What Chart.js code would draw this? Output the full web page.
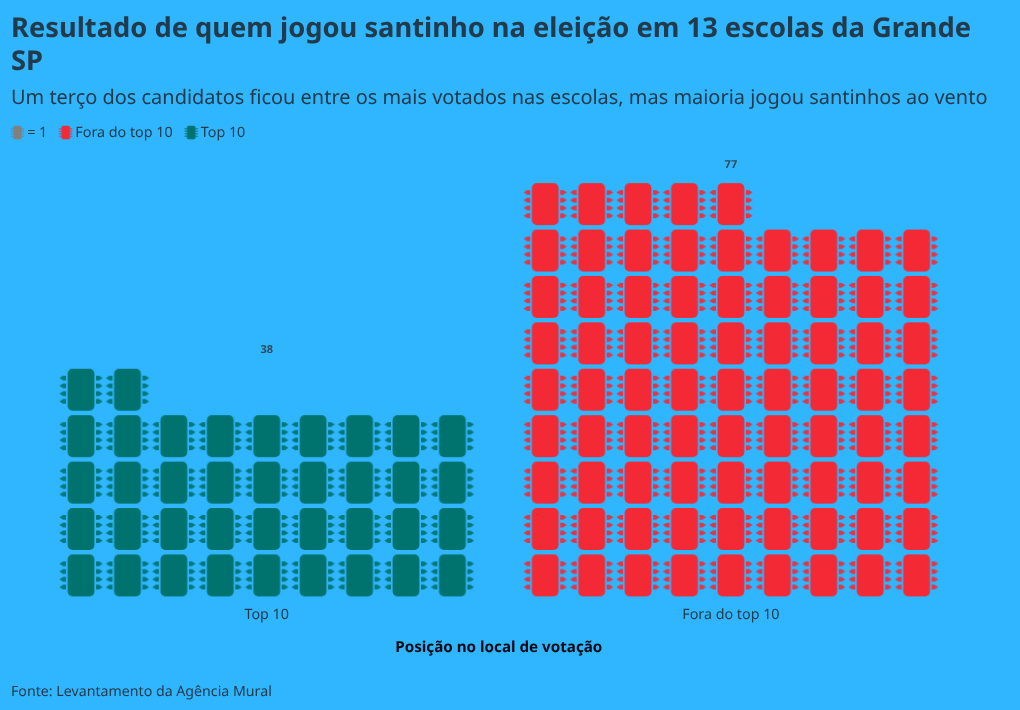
<!DOCTYPE html>
<html>
<head>
<meta charset="utf-8">
<style>
  html, body { margin: 0; padding: 0; background: #2fb6ff; }
  canvas { display: block; }
</style>
<script src="https://cdn.jsdelivr.net/npm/chart.js@4/dist/chart.umd.min.js"></script>
</head>
<body>
<canvas id="chart" width="1020" height="710"></canvas>
<script>
var categories = ["Top 10", "Fora do top 10"];
var values = [38, 77];
var keyLabel = "= 1";
var titleLines = ["Resultado de quem jogou santinho na eleição em 13 escolas da Grande", "SP"];
var subtitleText = "Um terço dos candidatos ficou entre os mais votados nas escolas, mas maioria jogou santinhos ao vento";
var axisTitle = "Posição no local de votação";
var sourceText = "Fonte: Levantamento da Agência Mural";

var perRow = 9;
var groupStart = [0, 10];
var green = "#00736e";
var red = "#f32a35";
var gray = "#808080";
var ink = "#223a4a";
var fontName = "'Noto Sans', sans-serif";

Chart.defaults.font.family = fontName;

// chip icon used as point style
function makeIcon(color, k) {
    var c = document.createElement("canvas");
    c.width = Math.ceil(46 * k);
    c.height = Math.ceil(46 * k);
    var g = c.getContext("2d");
    g.translate(c.width / 2, c.height / 2);
    g.scale(k, k);
    g.fillStyle = color;
    g.beginPath();
    g.roundRect(-13.4, -21, 26.8, 42, 5);
    g.fill();
    g.globalAlpha = 0.92;
    [-11.7, -3.9, 3.9, 11.7].forEach(function (y) {
        [-1, 1].forEach(function (s) {
            g.beginPath();
            g.moveTo(s * 15, y - 2.4);
            g.lineTo(s * 18, y - 2.4);
            g.lineTo(s * 21.6, y);
            g.lineTo(s * 18, y + 2.4);
            g.lineTo(s * 15, y + 2.4);
            g.closePath();
            g.fill();
        });
    });
    return c;
}

function cells(idx) {
    var pts = [];
    for (var i = 0; i < values[idx]; i++) {
        pts.push({ x: groupStart[idx] + i % perRow, y: Math.floor(i / perRow) });
    }
    return pts;
}

var valueLabels = {
    id: "valueLabels",
    afterDatasetsDraw: function (chart) {
        var ctx = chart.ctx;
        ctx.save();
        ctx.font = "bold 11px " + fontName;
        ctx.fillStyle = "#33495a";
        ctx.textAlign = "center";
        ctx.textBaseline = "middle";
        for (var i = 0; i < values.length; i++) {
            var top = Math.ceil(values[i] / perRow) - 1;
            var x = chart.scales.x.getPixelForValue(groupStart[i] + (perRow - 1) / 2);
            ctx.fillText(values[i], x, chart.scales.y.getPixelForValue(top + 0.85));
        }
        ctx.restore();
    }
};

var sourceNote = {
    id: "sourceNote",
    beforeDraw: function (chart) {
        chart.ctx.textRendering = "geometricPrecision";
    },
    afterLayout: function (chart) {
        chart.legend.left = -1;
        chart.legend.top -= 8;
        // title and subtitle may run past the plot's right side
        chart.boxes.forEach(function (box) {
            if (box.position === "top") {
                box.right = 1015;
            }
        });
    },
    afterDraw: function (chart) {
        var ctx = chart.ctx;
        ctx.save();
        ctx.font = "14.2px " + fontName;
        ctx.fillStyle = ink;
        ctx.textBaseline = "middle";
        ctx.fillText(sourceText, 11, 691.5);
        ctx.restore();
    }
};

var smallIcons = [makeIcon(gray, 0.32), makeIcon(red, 0.32), makeIcon(green, 0.32)];

new Chart(document.getElementById("chart"), {
    type: "scatter",
    data: {
        datasets: [
            { label: keyLabel, data: [], pointStyle: makeIcon(gray, 1), backgroundColor: gray },
            { label: categories[1], data: cells(1), pointStyle: makeIcon(red, 1), backgroundColor: red, pointRadius: 20 },
            { label: categories[0], data: cells(0), pointStyle: makeIcon(green, 1), backgroundColor: green, pointRadius: 20 }
        ]
    },
    options: {
        responsive: false,
        animation: false,
        clip: false,
        layout: { padding: { left: 11, right: 57, top: 13, bottom: 53 } },
        scales: {
            x: {
                type: "linear",
                min: -1,
                max: 19,
                grid: { display: false },
                border: { display: false },
                afterBuildTicks: function (scale) {
                    scale.ticks = [{ value: 4 }, { value: 14 }];
                },
                ticks: {
                    autoSkip: false,
                    maxRotation: 0,
                    padding: 0,
                    color: ink,
                    font: { size: 14.3 },
                    callback: function (v) {
                        return v === 4 ? categories[0] : categories[1];
                    }
                },
                title: {
                    display: true,
                    text: axisTitle,
                    color: "#0a0a14",
                    font: { size: 15.2, weight: "bold" },
                    padding: { top: 15, bottom: 0 }
                }
            },
            y: {
                type: "linear",
                min: -0.5,
                max: 9,
                grid: { display: false },
                border: { display: false },
                ticks: { display: false },
                afterFit: function (scale) {
                    scale.width = 23.6;
                }
            }
        },
        plugins: {
            title: {
                display: true,
                align: "start",
                text: titleLines,
                color: ink,
                font: { size: 27.3, weight: "bold", lineHeight: 1.205 },
                padding: { top: 0, bottom: 7.5 }
            },
            subtitle: {
                display: true,
                align: "start",
                text: subtitleText,
                color: ink,
                font: { size: 19.94, lineHeight: 1.233 },
                padding: { top: 0, bottom: 6.5 }
            },
            legend: {
                position: "top",
                align: "start",
                labels: {
                    usePointStyle: true,
                    pointStyleWidth: 5,
                    padding: 16,
                    color: ink,
                    font: { size: 14.3 },
                    generateLabels: function (chart) {
                        return chart.data.datasets.map(function (d, i) {
                            return { text: d.label, pointStyle: smallIcons[i], datasetIndex: i, fontColor: ink, lineWidth: 0 };
                        });
                    }
                }
            },
            tooltip: { enabled: false }
        }
    },
    plugins: [valueLabels, sourceNote]
});
</script>
</body>
</html>
